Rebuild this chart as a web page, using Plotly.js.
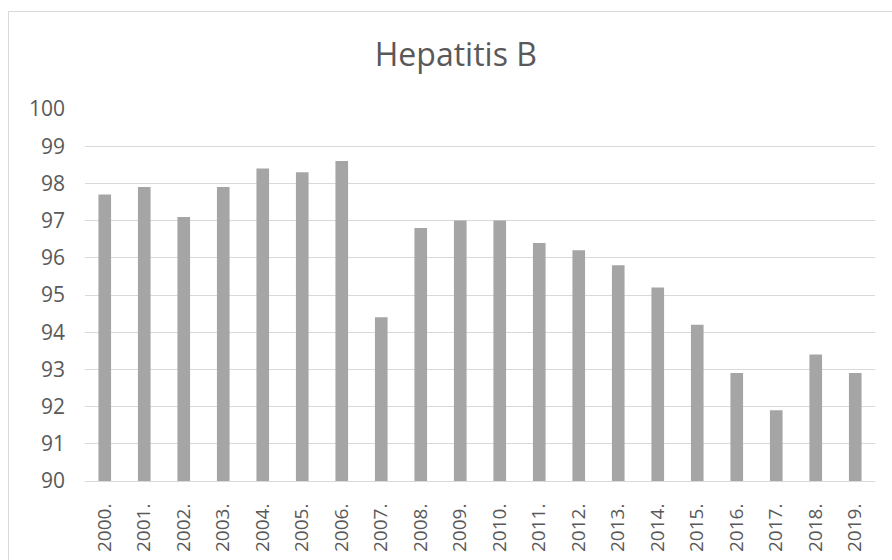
<!DOCTYPE html>
<html>
<head>
<meta charset="utf-8">
<script src="https://cdn.plot.ly/plotly-3.0.1.min.js"></script>
<style>
  html, body { margin: 0; padding: 0; background: #fff; }
  #wrap { position: relative; width: 892px; height: 560px; overflow: hidden; }
  #chart { width: 892px; height: 560px; }
  #frame { position: absolute; left: 8px; top: 11px; width: 920px; height: 600px;
           border: 1px solid #d9d9d9; pointer-events: none; }
</style>
</head>
<body>
<div id="wrap">
  <div id="chart"></div>
  <div id="frame"></div>
</div>
<script>
const years = ["2000.", "2001.", "2002.", "2003.", "2004.", "2005.", "2006.", "2007.", "2008.", "2009.",
               "2010.", "2011.", "2012.", "2013.", "2014.", "2015.", "2016.", "2017.", "2018.", "2019."];
const coverage = [97.7, 97.9, 97.1, 97.9, 98.4, 98.3, 98.6, 94.4, 96.8, 97.0,
                  97.0, 96.4, 96.2, 95.8, 95.2, 94.2, 92.9, 91.9, 93.4, 92.9];
const yTicks = [90, 91, 92, 93, 94, 95, 96, 97, 98, 99, 100];
const chartTitle = "Hepatitis B";

const trace = {
  type: "bar",
  x: years,
  y: coverage,
  marker: { color: "#a5a5a5" },
  hoverinfo: "x+y"
};

const layout = {
  width: 892,
  height: 560,
  margin: { l: 85, r: 17, t: 109, b: 79 },
  paper_bgcolor: "rgba(0,0,0,0)",
  plot_bgcolor: "#ffffff",
  font: { family: "Open Sans, sans-serif", color: "#595959" },
  showlegend: false,
  bargap: 0.68,
  title: {
    text: chartTitle,
    font: { family: "Open Sans, sans-serif", size: 32, color: "#595959" },
    xref: "container",
    x: 0.511,
    xanchor: "center",
    yref: "container",
    y: 1 - 55 / 560,
    yanchor: "middle"
  },
  xaxis: {
    type: "category",
    tickangle: -90,
    tickfont: { size: 19, color: "#595959" },
    showgrid: false,
    showline: true,
    linecolor: "#d9d9d9",
    linewidth: 1,
    ticks: "",
    ticklabelstandoff: 14,
    fixedrange: true
  },
  yaxis: {
    range: [90, 100],
    tickvals: yTicks,
    ticktext: yTicks.map(String),
    tickfont: { size: 21, color: "#595959" },
    showgrid: true,
    gridcolor: "#d9d9d9",
    gridwidth: 1,
    zeroline: false,
    showline: false,
    ticks: "",
    ticklabelstandoff: 19,
    fixedrange: true
  }
};

Plotly.newPlot("chart", [trace], layout, { displayModeBar: false, staticPlot: true });
</script>
</body>
</html>
